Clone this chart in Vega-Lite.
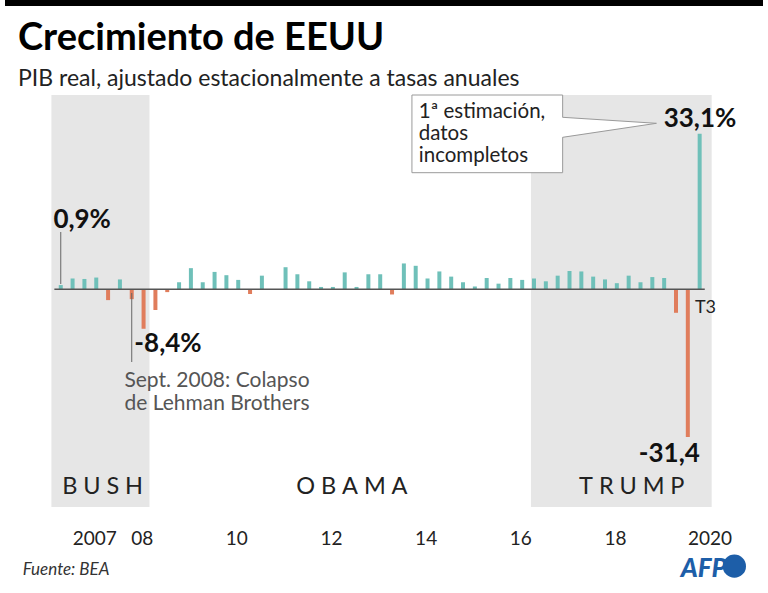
{
  "$schema": "https://vega.github.io/schema/vega-lite/v6.json",
  "width": 768,
  "height": 525,
  "autosize": {"type": "none"},
  "padding": {"top": 0, "left": 0, "right": 0, "bottom": 68},
  "background": "white",
  "title": {
    "text": "Crecimiento de EEUU",
    "subtitle": "PIB real, ajustado estacionalmente a tasas anuales",
    "anchor": "start",
    "frame": "group",
    "dx": 18,
    "offset": -91,
    "baseline": "top",
    "font": "Lato",
    "fontSize": 38,
    "fontWeight": "bold",
    "color": "#000000",
    "subtitleFont": "Lato",
    "subtitleFontSize": 23,
    "subtitleColor": "#222222",
    "subtitlePadding": 10
  },
  "config": {
    "view": {"stroke": null},
    "text": {"font": "Lato"}
  },
  "datasets": {
    "pib": [
      {"trimestre": "2007-T1", "t": 2007.125, "v": 0.9},
      {"trimestre": "2007-T2", "t": 2007.375, "v": 2.3},
      {"trimestre": "2007-T3", "t": 2007.625, "v": 2.2},
      {"trimestre": "2007-T4", "t": 2007.875, "v": 2.5},
      {"trimestre": "2008-T1", "t": 2008.125, "v": -2.3},
      {"trimestre": "2008-T2", "t": 2008.375, "v": 2.1},
      {"trimestre": "2008-T3", "t": 2008.625, "v": -2.1},
      {"trimestre": "2008-T4", "t": 2008.875, "v": -8.4},
      {"trimestre": "2009-T1", "t": 2009.125, "v": -4.4},
      {"trimestre": "2009-T2", "t": 2009.375, "v": -0.6},
      {"trimestre": "2009-T3", "t": 2009.625, "v": 1.5},
      {"trimestre": "2009-T4", "t": 2009.875, "v": 4.5},
      {"trimestre": "2010-T1", "t": 2010.125, "v": 1.5},
      {"trimestre": "2010-T2", "t": 2010.375, "v": 3.7},
      {"trimestre": "2010-T3", "t": 2010.625, "v": 3.0},
      {"trimestre": "2010-T4", "t": 2010.875, "v": 2.0},
      {"trimestre": "2011-T1", "t": 2011.125, "v": -1.0},
      {"trimestre": "2011-T2", "t": 2011.375, "v": 2.9},
      {"trimestre": "2011-T3", "t": 2011.625, "v": -0.1},
      {"trimestre": "2011-T4", "t": 2011.875, "v": 4.7},
      {"trimestre": "2012-T1", "t": 2012.125, "v": 3.2},
      {"trimestre": "2012-T2", "t": 2012.375, "v": 1.7},
      {"trimestre": "2012-T3", "t": 2012.625, "v": 0.5},
      {"trimestre": "2012-T4", "t": 2012.875, "v": 0.5},
      {"trimestre": "2013-T1", "t": 2013.125, "v": 3.6},
      {"trimestre": "2013-T2", "t": 2013.375, "v": 0.5},
      {"trimestre": "2013-T3", "t": 2013.625, "v": 3.2},
      {"trimestre": "2013-T4", "t": 2013.875, "v": 3.2},
      {"trimestre": "2014-T1", "t": 2014.125, "v": -1.1},
      {"trimestre": "2014-T2", "t": 2014.375, "v": 5.5},
      {"trimestre": "2014-T3", "t": 2014.625, "v": 5.0},
      {"trimestre": "2014-T4", "t": 2014.875, "v": 2.3},
      {"trimestre": "2015-T1", "t": 2015.125, "v": 3.8},
      {"trimestre": "2015-T2", "t": 2015.375, "v": 2.7},
      {"trimestre": "2015-T3", "t": 2015.625, "v": 1.5},
      {"trimestre": "2015-T4", "t": 2015.875, "v": 0.6},
      {"trimestre": "2016-T1", "t": 2016.125, "v": 2.4},
      {"trimestre": "2016-T2", "t": 2016.375, "v": 1.2},
      {"trimestre": "2016-T3", "t": 2016.625, "v": 2.4},
      {"trimestre": "2016-T4", "t": 2016.875, "v": 2.0},
      {"trimestre": "2017-T1", "t": 2017.125, "v": 2.3},
      {"trimestre": "2017-T2", "t": 2017.375, "v": 1.7},
      {"trimestre": "2017-T3", "t": 2017.625, "v": 2.9},
      {"trimestre": "2017-T4", "t": 2017.875, "v": 3.9},
      {"trimestre": "2018-T1", "t": 2018.125, "v": 3.8},
      {"trimestre": "2018-T2", "t": 2018.375, "v": 2.7},
      {"trimestre": "2018-T3", "t": 2018.625, "v": 2.1},
      {"trimestre": "2018-T4", "t": 2018.875, "v": 1.3},
      {"trimestre": "2019-T1", "t": 2019.125, "v": 2.9},
      {"trimestre": "2019-T2", "t": 2019.375, "v": 1.5},
      {"trimestre": "2019-T3", "t": 2019.625, "v": 2.6},
      {"trimestre": "2019-T4", "t": 2019.875, "v": 2.4},
      {"trimestre": "2020-T1", "t": 2020.125, "v": -5.0},
      {"trimestre": "2020-T2", "t": 2020.375, "v": -31.4},
      {"trimestre": "2020-T3", "t": 2020.625, "v": 33.1}
    ],
    "mandatos": [
      {"presidente": "BUSH", "inicio": 2006.927, "fin": 2009.0},
      {"presidente": "TRUMP", "inicio": 2017.06, "fin": 2020.879}
    ],
    "anios": [
      {"anio": 2007, "etiqueta": "2007"},
      {"anio": 2008, "etiqueta": "08"},
      {"anio": 2010, "etiqueta": "10"},
      {"anio": 2012, "etiqueta": "12"},
      {"anio": 2014, "etiqueta": "14"},
      {"anio": 2016, "etiqueta": "16"},
      {"anio": 2018, "etiqueta": "18"},
      {"anio": 2020, "etiqueta": "2020"}
    ],
    "nota": [{}]
  },
  "layer": [
    {
      "data": {"name": "mandatos"},
      "mark": {"type": "rect", "color": "#e6e6e6"},
      "encoding": {
        "x": {"field": "inicio", "type": "quantitative", "axis": null},
        "x2": {"field": "fin"},
        "y": {"datum": 41.34, "type": "quantitative", "axis": null},
        "y2": {"datum": -46.32}
      }
    },
    {
      "data": {"name": "nota"},
      "mark": {"type": "rect", "color": "#000000"},
      "encoding": {
        "x": {"datum": 2005.9468, "type": "quantitative", "axis": null},
        "x2": {"datum": 2021.9635},
        "y": {"datum": 61.553, "type": "quantitative", "axis": null},
        "y2": {"datum": 60.277}
      }
    },
    {
      "data": {"name": "pib"},
      "mark": {"type": "bar", "width": 4},
      "encoding": {
        "x": {
          "field": "t",
          "type": "quantitative",
          "scale": {"domain": [2005.9468, 2021.9635], "nice": false, "zero": false},
          "axis": null
        },
        "y": {
          "field": "v",
          "type": "quantitative",
          "scale": {"domain": [-50.149, 61.553], "nice": false, "zero": false},
          "axis": null
        },
        "y2": {"datum": 0},
        "color": {
          "condition": {"test": "datum.v < 0", "value": "#e07d5c"},
          "value": "#6fc0b9"
        }
      }
    },
    {
      "data": {"name": "nota"},
      "mark": {"type": "rule", "color": "#555555", "strokeWidth": 1.5},
      "encoding": {
        "x": {"datum": 2006.99, "type": "quantitative", "axis": null},
        "x2": {"datum": 2020.733},
        "y": {"datum": 0, "type": "quantitative", "axis": null}
      }
    },
    {
      "data": {"name": "anios"},
      "mark": {"type": "text", "align": "center", "baseline": "alphabetic", "fontSize": 19, "dx": 40, "color": "#222222"},
      "encoding": {
        "x": {"field": "anio", "type": "quantitative", "axis": null},
        "y": {"datum": -54.40, "type": "quantitative", "axis": null},
        "text": {"field": "etiqueta"}
      }
    },
    {
      "data": {"name": "nota"},
      "mark": {"type": "rule", "color": "#666666", "strokeWidth": 1},
      "encoding": {
        "x": {"datum": 2007.125, "type": "quantitative", "axis": null},
        "y": {"datum": 12.19, "type": "quantitative", "axis": null},
        "y2": {"datum": 1.13}
      }
    },
    {
      "data": {"name": "nota"},
      "mark": {"type": "rule", "color": "#666666", "strokeWidth": 1},
      "encoding": {
        "x": {"datum": 2008.625, "type": "quantitative", "axis": null},
        "y": {"datum": -0.79, "type": "quantitative", "axis": null},
        "y2": {"datum": -15.47}
      }
    },
    {
      "data": {"name": "nota"},
      "mark": {"type": "text", "align": "left", "baseline": "alphabetic", "fontSize": 26, "fontWeight": "bold", "color": "#111111"},
      "encoding": {
        "x": {"datum": 2006.969, "type": "quantitative", "axis": null},
        "y": {"datum": 13.04, "type": "quantitative", "axis": null},
        "text": {"value": "0,9%"}
      }
    },
    {
      "data": {"name": "nota"},
      "mark": {"type": "text", "align": "left", "baseline": "alphabetic", "fontSize": 26, "fontWeight": "bold", "color": "#111111"},
      "encoding": {
        "x": {"datum": 2008.68, "type": "quantitative", "axis": null},
        "y": {"datum": -13.34, "type": "quantitative", "axis": null},
        "text": {"value": "-8,4%"}
      }
    },
    {
      "data": {"name": "nota"},
      "mark": {"type": "text", "align": "left", "baseline": "alphabetic", "fontSize": 21, "lineHeight": 22.8, "color": "#555555", "text": ["Sept. 2008: Colapso", "de Lehman Brothers"]},
      "encoding": {
        "x": {"datum": 2008.47, "type": "quantitative", "axis": null},
        "y": {"datum": -20.787, "type": "quantitative", "axis": null}
      }
    },
    {
      "data": {"name": "nota"},
      "mark": {"type": "text", "align": "right", "baseline": "alphabetic", "fontSize": 26, "fontWeight": "bold", "color": "#111111"},
      "encoding": {
        "x": {"datum": 2021.40, "type": "quantitative", "axis": null},
        "y": {"datum": 34.532, "type": "quantitative", "axis": null},
        "text": {"value": "33,1%"}
      }
    },
    {
      "data": {"name": "nota"},
      "mark": {"type": "text", "align": "right", "baseline": "alphabetic", "fontSize": 26, "fontWeight": "bold", "color": "#111111"},
      "encoding": {
        "x": {"datum": 2020.629, "type": "quantitative", "axis": null},
        "y": {"datum": -36.68, "type": "quantitative", "axis": null},
        "text": {"value": "-31,4"}
      }
    },
    {
      "data": {"name": "nota"},
      "mark": {"type": "text", "align": "left", "baseline": "alphabetic", "fontSize": 18, "color": "#222222"},
      "encoding": {
        "x": {"datum": 2020.5245, "type": "quantitative", "axis": null},
        "y": {"datum": -5.106, "type": "quantitative", "axis": null},
        "text": {"value": "T3"}
      }
    },
    {
      "data": {"name": "nota"},
      "mark": {"type": "rect", "fill": "#ffffff", "stroke": "#9a9a9a", "strokeWidth": 1},
      "encoding": {
        "x": {"datum": 2014.5454, "type": "quantitative", "axis": null},
        "x2": {"datum": 2017.73},
        "y": {"datum": 41.34, "type": "quantitative", "axis": null},
        "y2": {"datum": 24.809}
      }
    },
    {
      "data": {"name": "nota"},
      "mark": {"type": "point", "shape": "M0,0L-1.01,-0.0638L-1.01,0.1489Z", "size": 36100, "filled": true, "fill": "#ffffff", "strokeWidth": 0, "opacity": 1},
      "encoding": {
        "x": {"datum": 2019.7112, "type": "quantitative", "axis": null},
        "y": {"datum": 35.319, "type": "quantitative", "axis": null}
      }
    },
    {
      "data": {"name": "nota"},
      "mark": {"type": "rule", "color": "#9a9a9a", "strokeWidth": 1},
      "encoding": {
        "x": {"datum": 2017.73, "type": "quantitative", "axis": null},
        "y": {"datum": 36.596, "type": "quantitative", "axis": null},
        "x2": {"datum": 2019.7112},
        "y2": {"datum": 35.319}
      }
    },
    {
      "data": {"name": "nota"},
      "mark": {"type": "rule", "color": "#9a9a9a", "strokeWidth": 1},
      "encoding": {
        "x": {"datum": 2017.73, "type": "quantitative", "axis": null},
        "y": {"datum": 32.34, "type": "quantitative", "axis": null},
        "x2": {"datum": 2019.7112},
        "y2": {"datum": 35.319}
      }
    },
    {
      "data": {"name": "nota"},
      "mark": {"type": "text", "align": "left", "baseline": "alphabetic", "fontSize": 20.5, "lineHeight": 21.7, "color": "#222222", "text": ["1ª estimación,", "datos", "incompletos"]},
      "encoding": {
        "x": {"datum": 2014.69, "type": "quantitative", "axis": null},
        "y": {"datum": 36.38, "type": "quantitative", "axis": null}
      }
    },
    {
      "data": {"name": "nota"},
      "mark": {"type": "text", "align": "center", "baseline": "alphabetic", "fontSize": 23.5, "color": "#222222"},
      "encoding": {
        "x": {"datum": 2008.01, "type": "quantitative", "axis": null},
        "y": {"datum": -43.55, "type": "quantitative", "axis": null},
        "text": {"value": "B\u2005U\u2005S\u2005H"}
      }
    },
    {
      "data": {"name": "nota"},
      "mark": {"type": "text", "align": "center", "baseline": "alphabetic", "fontSize": 23.5, "color": "#222222"},
      "encoding": {
        "x": {"datum": 2013.2774, "type": "quantitative", "axis": null},
        "y": {"datum": -43.55, "type": "quantitative", "axis": null},
        "text": {"value": "O\u2005B\u2005A\u2005M\u2005A"}
      }
    },
    {
      "data": {"name": "nota"},
      "mark": {"type": "text", "align": "center", "baseline": "alphabetic", "fontSize": 23.5, "color": "#222222"},
      "encoding": {
        "x": {"datum": 2019.1908, "type": "quantitative", "axis": null},
        "y": {"datum": -43.55, "type": "quantitative", "axis": null},
        "text": {"value": "T\u2005R\u2005U\u2005M\u2005P"}
      }
    },
    {
      "data": {"name": "nota"},
      "mark": {"type": "text", "align": "left", "baseline": "alphabetic", "fontSize": 17, "fontStyle": "italic", "color": "#333333"},
      "encoding": {
        "x": {"datum": 2006.3222, "type": "quantitative", "axis": null},
        "y": {"datum": -60.79, "type": "quantitative", "axis": null},
        "text": {"value": "Fuente: BEA"}
      }
    },
    {
      "data": {"name": "nota"},
      "mark": {"type": "text", "align": "right", "baseline": "alphabetic", "fontSize": 26, "fontStyle": "italic", "fontWeight": 900, "color": "#1d5ea8"},
      "encoding": {
        "x": {"datum": 2021.2, "type": "quantitative", "axis": null},
        "y": {"datum": -61.11, "type": "quantitative", "axis": null},
        "text": {"value": "AFP"}
      }
    },
    {
      "data": {"name": "nota"},
      "mark": {"type": "point", "shape": "circle", "size": 540, "filled": true, "color": "#1d5ea8", "opacity": 1},
      "encoding": {
        "x": {"datum": 2021.3587, "type": "quantitative", "axis": null},
        "y": {"datum": -58.9, "type": "quantitative", "axis": null}
      }
    }
  ]
}
